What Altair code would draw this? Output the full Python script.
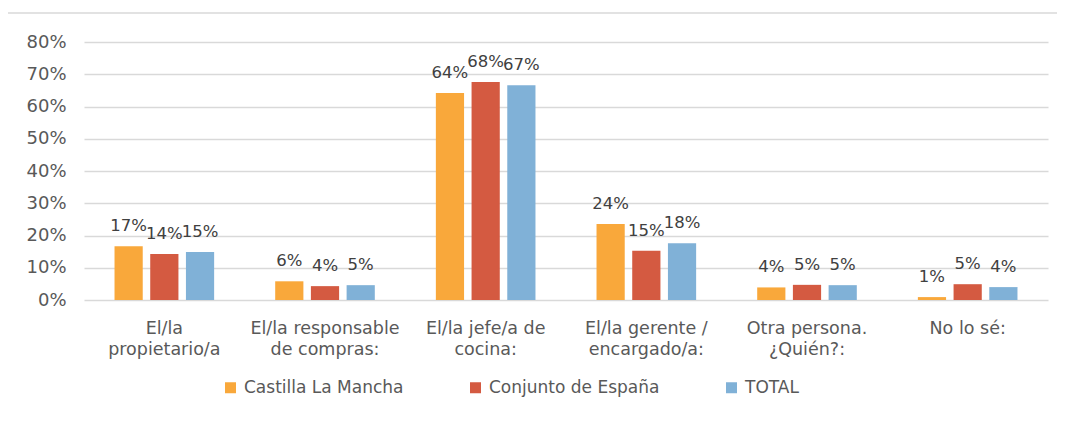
import altair as alt
import pandas as pd

categories = [
    "El/la\npropietario/a",
    "El/la responsable\nde compras:",
    "El/la jefe/a de\ncocina:",
    "El/la gerente /\nencargado/a:",
    "Otra persona.\n¿Quién?:",
    "No lo sé:",
]
series = ["Castilla La Mancha", "Conjunto de España", "TOTAL"]
clm = [0.167, 0.058, 0.642, 0.236, 0.039, 0.009]
esp = [0.143, 0.043, 0.676, 0.153, 0.047, 0.049]
total = [0.149, 0.046, 0.666, 0.176, 0.046, 0.040]
colors = ["#F9A83B", "#D45A41", "#80B1D7"]

rows = []
for s, vals in zip(series, [clm, esp, total]):
    for c, v in zip(categories, vals):
        rows.append({"cat": c, "series": s, "value": v})
df = pd.DataFrame(rows)

FONT = "DejaVu Sans"

base = alt.Chart(df).encode(
    x=alt.X(
        "cat:N",
        sort=categories,
        scale=alt.Scale(paddingInner=0.38, paddingOuter=0.19),
        axis=alt.Axis(
            title=None,
            labelAngle=0,
            ticks=False,
            domain=False,
            grid=False,
            labelFont=FONT,
            labelFontSize=17.5,
            labelColor="#595959",
            labelPadding=19,
            labelLineHeight=21,
            labelLimit=300,
            labelExpr="split(datum.label, '\\n')",
        ),
    ),
    xOffset=alt.XOffset(
        "series:N", sort=series, scale=alt.Scale(paddingInner=0.21, paddingOuter=0)
    ),
    y=alt.Y(
        "value:Q",
        scale=alt.Scale(domain=[0, 0.8], nice=False),
        axis=alt.Axis(
            title=None,
            values=[0, 0.1, 0.2, 0.3, 0.4, 0.5, 0.6, 0.7, 0.8],
            format=".0%",
            ticks=False,
            domain=False,
            grid=True,
            gridColor="#D9D9D9",
            gridWidth=1.5,
            labelFont=FONT,
            labelFontSize=18,
            labelColor="#595959",
            labelPadding=18,
        ),
    ),
)

bars = base.mark_bar().encode(
    color=alt.Color(
        "series:N",
        sort=series,
        scale=alt.Scale(domain=series, range=colors),
        legend=alt.Legend(
            title=None,
            orient="none",
            legendX=138,
            legendY=337,
            direction="horizontal",
            symbolType="square",
            symbolSize=121,
            symbolStrokeWidth=0,
            labelFont=FONT,
            labelFontSize=17,
            labelColor="#595959",
            labelOffset=5,
            labelLimit=400,
            columnPadding=63,
        ),
    )
)

labels = base.mark_text(
    baseline="alphabetic", dy=-15, fontSize=16.5, color="#404040", font=FONT
).encode(text=alt.Text("value:Q", format=".0%"))

frame = alt.Chart(pd.DataFrame({"a": [0]})).mark_rect(
    fillOpacity=0, stroke="#D9D9D9", strokeWidth=1.5
).encode(
    x=alt.value(-77), x2=alt.value(2000), y=alt.value(-29), y2=alt.value(1000)
)

chart = (
    alt.layer(frame, bars, labels)
    .properties(
        width=964,
        height=258,
        padding={"left": 76, "top": 34, "right": 9, "bottom": 100},
        autosize=alt.AutoSizeParams(type="none"),
    )
    .configure(font=FONT)
    .configure_view(stroke=None)
)

chart.save("out.html", embed_options={"renderer": "svg", "actions": False})
